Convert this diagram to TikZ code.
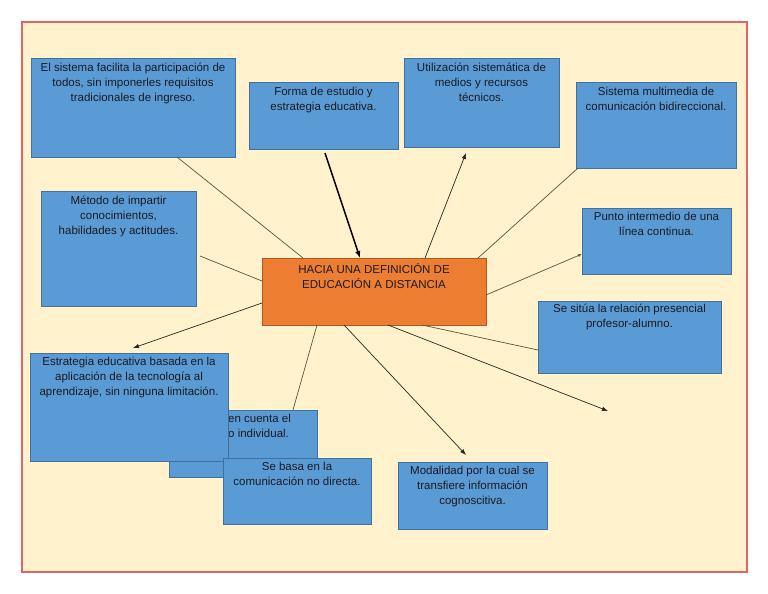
\documentclass[tikz,border=0pt]{standalone}
\usepackage{fontspec}
\setmainfont{Liberation Sans}
\usetikzlibrary{arrows.meta}
\definecolor{cream}{HTML}{FFF2CC}
\definecolor{frameline}{HTML}{E06666}
\definecolor{bluefill}{HTML}{5B9BD5}
\definecolor{blueline}{HTML}{41719C}
\definecolor{orangefill}{HTML}{ED7D31}
\definecolor{orangeline}{HTML}{AE5A21}
\definecolor{conn}{HTML}{5C5340}
\definecolor{txt}{HTML}{1A1A22}
\tikzset{
  bbox/.style={draw=blueline, fill=bluefill, line width=0.9pt, inner sep=0pt, outer sep=0pt},
  obox/.style={draw=orangeline, fill=orangefill, line width=0.9pt, inner sep=0pt, outer sep=0pt},
  btext/.style={anchor=north, align=center, text=txt, font=\fontsize{11.5}{15}\selectfont, inner sep=0pt},
  thin conn/.style={draw=conn, line width=0.7pt},
  arr conn/.style={draw=black!85, line width=0.7pt, -{Latex[length=6pt,width=4.5pt]}},
}
\begin{document}
\begin{tikzpicture}[x=1pt,y=-1pt]
\useasboundingbox (0,0) rectangle (768,594);
\fill[white] (0,0) rectangle (768,594);
\node[draw=frameline, fill=cream, line width=2pt, minimum width=725pt, minimum height=550pt, inner sep=0pt] (frame) at (384.5,297) {};

% boxes
\node[bbox, minimum width=204pt, minimum height=99pt] (b1) at (133,107.5) {};
\node[btext] (t1) at ([yshift=-5pt]b1.north) {El sistema facilita la participación de\\todos, sin imponerles requisitos\\tradicionales de ingreso.};

\node[bbox, minimum width=149pt, minimum height=67pt] (b2) at (323.5,115.5) {};
\node[btext] (t2) at ([yshift=-5pt]b2.north) {Forma de estudio y\\estrategia educativa.};

\node[bbox, minimum width=155pt, minimum height=115pt] (b3) at (118.5,248.5) {};
\node[btext] (t3) at ([yshift=-5pt]b3.north) {Método de impartir\\conocimientos,\\habilidades y actitudes.};

\node[bbox, minimum width=155pt, minimum height=89pt] (b5) at (481.5,102.5) {};
\node[btext] (t5) at ([yshift=-5pt]b5.north) {Utilización sistemática de\\medios y recursos\\técnicos.};

\node[bbox, minimum width=160pt, minimum height=86pt] (b6) at (656,125) {};
\node[btext] (t6) at ([yshift=-5pt]b6.north) {Sistema multimedia de\\comunicación bidireccional.};

\node[bbox, minimum width=149pt, minimum height=66pt] (b7) at (656.5,241) {};
\node[btext] (t7) at ([yshift=-4pt]b7.north) {Punto intermedio de una\\línea continua.};

\node[bbox, minimum width=183pt, minimum height=72pt] (b8) at (629.5,337) {};
\node[btext] (t8) at ([yshift=-3pt]b8.north) {Se sitúa la relación presencial\\profesor-alumno.};

\node[bbox, minimum width=148pt, minimum height=67pt] (b10) at (243,443.5) {};
\node[anchor=north west, align=left, text=txt, font=\fontsize{11.5}{15}\selectfont, inner sep=0pt] (t10) at ([xshift=59pt,yshift=-4pt]b10.north west) {en cuenta el\\o individual.};

\node[bbox, minimum width=198pt, minimum height=108pt] (b9) at (129,407) {};
\node[btext] (t9) at ([yshift=-4pt]b9.north) {Estrategia educativa basada en la\\aplicación de la tecnología al\\aprendizaje, sin ninguna limitación.};

\node[bbox, minimum width=148pt, minimum height=66pt] (b11) at (297,491) {};
\node[btext] (t11) at ([yshift=-4pt]b11.north) {Se basa en la\\comunicación no directa.};

\node[bbox, minimum width=149pt, minimum height=67pt] (b12) at (472.5,495.5) {};
\node[btext] (t12) at ([yshift=-4pt]b12.north) {Modalidad por la cual se\\transfiere información\\cognoscitiva.};

% centre
\node[obox, minimum width=224pt, minimum height=67pt] (c) at (374,291.5) {};
\node[btext] (tc) at ([yshift=-5pt]c.north) {HACIA UNA DEFINICIÓN DE\\EDUCACIÓN A DISTANCIA};

\coordinate (fe) at (608,411);

% connectors
\draw[thin conn] ([xshift=146pt]b1.south west) -- ([xshift=41pt]c.north west);
\draw[black, line width=1.5pt, -{Latex[length=7pt,width=5.5pt]}] ([xshift=76pt,yshift=-4pt]b2.south west) -- ([xshift=98pt]c.north west);
\draw[thin conn] ([xshift=4pt,yshift=50pt]b3.south east) -- ([yshift=-23pt]c.north west);
\draw[arr conn] ([yshift=-45pt]c.north west) -- ([xshift=103pt,yshift=5pt]b9.north west);
\draw[arr conn] ([xshift=163pt]c.north west) -- ([xshift=62pt,yshift=-6pt]b5.south west);
\draw[thin conn] ([xshift=-8pt]c.north east) -- ([xshift=2pt]b6.south west);
\draw[thin conn, -{Latex[length=4pt,width=3pt]}] ([yshift=-37pt]c.north east) -- ([yshift=-46pt]b7.north west);
\draw[thin conn] ([xshift=-64pt]c.south east) -- ([yshift=-49pt]b8.north west);
\draw[arr conn] ([xshift=-98pt]c.south east) -- (fe);
\draw[arr conn] ([xshift=82pt]c.south west) -- ([xshift=68pt,yshift=7pt]b12.north west);
\draw[thin conn] ([xshift=55pt]c.south west) -- ([xshift=124pt]b10.north west);
\end{tikzpicture}
\end{document}
